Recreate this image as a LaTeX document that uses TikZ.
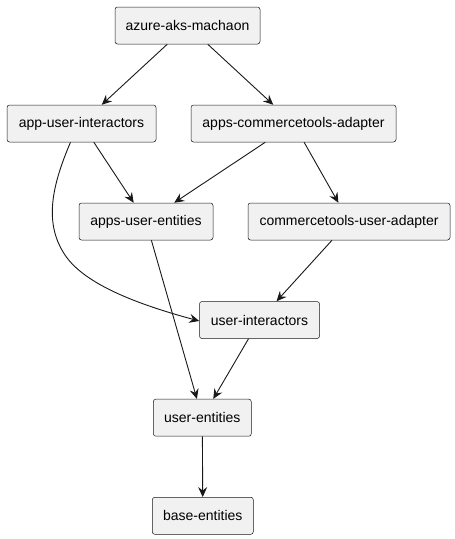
\documentclass[tikz,border=0pt]{standalone}
\usepackage{fontspec}
\setmainfont{Liberation Sans}
\usetikzlibrary{arrows.meta}
\definecolor{boxfill}{HTML}{F1F1F1}
\definecolor{boxline}{HTML}{181818}
\begin{document}
\begin{tikzpicture}[x=1pt,y=-1pt,
  pkg/.style={draw=boxline, line width=0.5pt, fill=boxfill, rounded corners=2.5pt,
    minimum height=37pt, inner xsep=2pt, inner ysep=0pt,
    font=\fontsize{14}{16}\selectfont, text=black},
  dep/.style={draw=boxline, line width=0.9pt,
    -{Stealth[length=10pt,width=9pt,inset=3.5pt]}}]
\useasboundingbox (0,0) rectangle (455,539);
\node[pkg, minimum width=145pt] (azure) at (187.5,25.5) {azure-aks-machaon};
\node[pkg, minimum width=149pt] (aui) at (81.5,123.5) {app-user-interactors};
\node[pkg, minimum width=205pt] (aca) at (293.5,123.5) {apps-commercetools-adapter};
\node[pkg, minimum width=134pt] (aue) at (146,221.5) {apps-user-entities};
\node[pkg, minimum width=202pt] (cua) at (349,221.5) {commercetools-user-adapter};
\node[pkg, minimum width=120pt] (ui) at (259.5,320) {user-interactors};
\node[pkg, minimum width=98pt] (ue) at (202.3,417.7) {user-entities};
\node[pkg, minimum width=101pt] (be) at (202.8,515.8) {base-entities};
\draw[dep] (azure) -- (aui);
\draw[dep] (azure) -- (aca);
\draw[dep] (aui) -- (aue);
\draw[dep] (aca) -- (aue);
\draw[dep] (aca) -- (cua);
\draw[dep] ([xshift=-11pt]aui.south) .. controls (50,190) and (45,225) .. (65,255)
  .. controls (85,285) and (140,305) .. ([yshift=-1pt]ui.west);
\draw[dep] (aue) -- (ue);
\draw[dep] (cua) -- (ui);
\draw[dep] (ui) -- (ue);
\draw[dep] (ue) -- (be);
\end{tikzpicture}
\end{document}
